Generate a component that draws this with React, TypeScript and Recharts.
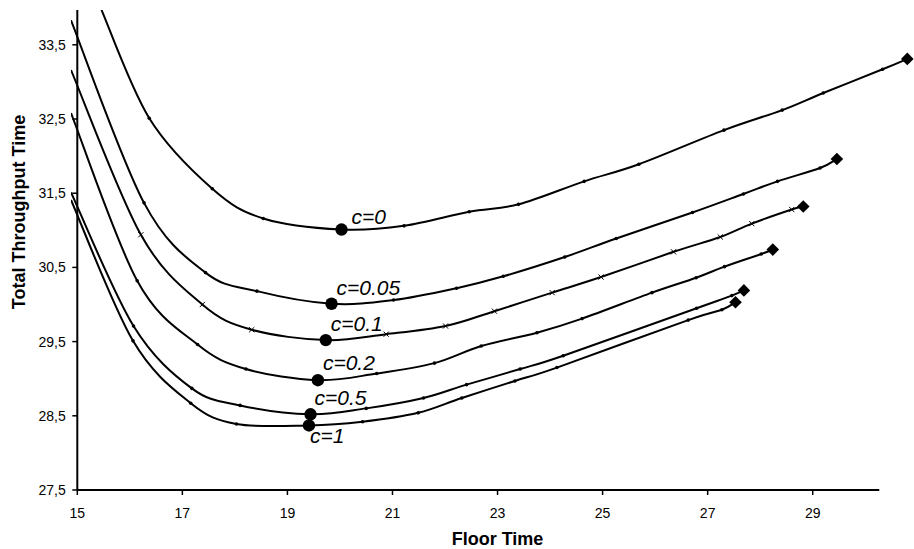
import React from 'react';
import { ComposedChart, Line, Scatter, XAxis, YAxis, ReferenceLine, Label } from 'recharts';

// ---------- data ----------
const curveNames = ['c=0', 'c=0.05', 'c=0.1', 'c=0.2', 'c=0.5', 'c=1'];

const c0Floor = [15.46, 16.37, 17.57, 18.54, 21.22, 22.46, 23.40, 24.65, 25.69, 27.31, 28.42, 29.20, 30.33, 30.80];
const c0Thru = [33.97, 32.51, 31.56, 31.16, 31.06, 31.25, 31.35, 31.66, 31.89, 32.35, 32.62, 32.85, 33.17, 33.31];

const c005Floor = [14.88, 16.27, 17.44, 18.42, 21.02, 22.22, 23.11, 24.28, 25.26, 26.71, 27.68, 28.33, 29.14, 29.46];
const c005Thru = [33.83, 31.37, 30.43, 30.18, 30.06, 30.22, 30.38, 30.64, 30.89, 31.24, 31.49, 31.66, 31.84, 31.96];

const c01Floor = [14.88, 16.21, 17.38, 18.32, 20.88, 22.01, 22.94, 24.04, 24.97, 26.35, 27.24, 27.84, 28.60, 28.82];
const c01Thru = [33.16, 30.94, 30.00, 29.66, 29.60, 29.71, 29.91, 30.16, 30.37, 30.71, 30.91, 31.09, 31.28, 31.32];

const c02Floor = [14.88, 16.14, 17.29, 18.21, 20.70, 21.80, 22.69, 23.75, 24.61, 25.94, 26.78, 27.32, 28.02, 28.24];
const c02Thru = [32.58, 30.32, 29.46, 29.13, 29.07, 29.21, 29.44, 29.62, 29.81, 30.16, 30.36, 30.51, 30.68, 30.74];

const c05Floor = [14.88, 16.07, 17.18, 18.10, 20.50, 21.59, 22.41, 23.43, 24.25, 26.79, 27.46, 27.69];
const c05Thru = [31.51, 29.71, 28.87, 28.64, 28.60, 28.74, 28.92, 29.13, 29.31, 29.95, 30.12, 30.19];

const c1Floor = [14.88, 16.06, 17.16, 18.03, 20.43, 21.49, 22.32, 23.33, 24.13, 26.63, 27.27, 27.53];
const c1Thru = [31.41, 29.51, 28.67, 28.39, 28.42, 28.54, 28.74, 28.97, 29.15, 29.79, 29.93, 30.03];

// optimum (minimum) points, one per curve
const optFloor = [20.03, 19.84, 19.73, 19.58, 19.44, 19.41];
const optThru = [31.01, 30.01, 29.52, 28.98, 28.52, 28.37];

const xTicks = [15, 17, 19, 21, 23, 25, 27, 29];
const yTicks = [27.5, 28.5, 29.5, 30.5, 31.5, 32.5, 33.5];

// ---------- layout ----------
const W = 914;
const H = 549;
const Y_AXIS_W = 71;
const X_AXIS_H = 59;
const TOP = 10;
const PLOT_W = W - Y_AXIS_W;
const X_MIN = 14.88;
const X_MAX = 30.928;
const Y_MIN = 27.5;
const Y_MAX = 33.969;
const X_AXIS_END = 30.267;
const AXIS_X = 15;
const AXIS_OFFSET = (AXIS_X - X_MIN) * (PLOT_W / (X_MAX - X_MIN));
const FONT = '"Liberation Sans", Arial, Helvetica, sans-serif';

// label offset relative to the optimum marker (dx, dy)
const labelOffsets: [number, number][] = [
  [10, -6],
  [5, -9],
  [5, -9],
  [5, -10],
  [4, -9],
  [1, 18],
];

const curveFloors = [c0Floor, c005Floor, c01Floor, c02Floor, c05Floor, c1Floor];
const curveThrus = [c0Thru, c005Thru, c01Thru, c02Thru, c05Thru, c1Thru];
const markerKinds = ['dot', 'dot', 'x', 'dot', 'dot', 'dot'];

const curves = curveFloors.map((xs, ci) => {
  const pts = xs.map((x, i) => ({ x, y: curveThrus[ci][i], opt: false }));
  pts.push({ x: optFloor[ci], y: optThru[ci], opt: true });
  pts.sort((a, b) => a.x - b.x);
  return pts;
});

const optData = optFloor.map((x, i) => ({ x, y: optThru[i], label: curveNames[i], i }));

const fmt = (v: number) => String(v).replace('.', ',');

// Catmull-Rom style smoothing (like a spreadsheet "smoothed line")
function smoothCurve(context: any) {
  let pts: [number, number][] = [];
  return {
    areaStart() {},
    areaEnd() {},
    lineStart() {
      pts = [];
    },
    point(x: number, y: number) {
      pts.push([+x, +y]);
    },
    lineEnd() {
      const n = pts.length;
      if (!n) return;
      context.moveTo(pts[0][0], pts[0][1]);
      if (n === 1) return;
      const t = 1 / 6;
      for (let i = 0; i < n - 1; i++) {
        const p0 = pts[Math.max(i - 1, 0)];
        const p1 = pts[i];
        const p2 = pts[i + 1];
        const p3 = pts[Math.min(i + 2, n - 1)];
        const c1x = p1[0] + (p2[0] - p0[0]) * t;
        const c1y = p1[1] + (p2[1] - p0[1]) * t;
        const c2x = p2[0] - (p3[0] - p1[0]) * t;
        const c2y = p2[1] - (p3[1] - p1[1]) * t;
        context.bezierCurveTo(c1x, c1y, c2x, c2y, p2[0], p2[1]);
      }
    },
  };
}

function makeDot(kind: string, n: number) {
  return (p: any) => {
    const { cx, cy, index, payload } = p;
    const key = `d-${index}`;
    if (cx == null || cy == null) return <g key={key} />;
    if (index === n - 1) {
      const s = 6.3;
      return (
        <path
          key={key}
          d={`M${cx},${cy - s} L${cx + s},${cy} L${cx},${cy + s} L${cx - s},${cy} Z`}
          fill="#000"
        />
      );
    }
    if (index === 0 || (payload && payload.opt)) return <g key={key} />;
    if (kind === 'x') {
      const s = 2.6;
      return (
        <path
          key={key}
          d={`M${cx - s},${cy - s} L${cx + s},${cy + s} M${cx - s},${cy + s} L${cx + s},${cy - s}`}
          stroke="#000"
          strokeWidth={1}
          fill="none"
        />
      );
    }
    return <circle key={key} cx={cx} cy={cy} r={1.8} fill="#000" />;
  };
}

const renderOpt = (p: any) => {
  const { cx, cy, payload } = p;
  const o = labelOffsets[payload.i];
  return (
    <g>
      <circle cx={cx} cy={cy} r={6.2} fill="#000" />
      <text
        x={cx + o[0]}
        y={cy + o[1]}
        fontSize={21}
        fontStyle="italic"
        fontFamily={FONT}
        fill="#000"
      >
        {payload.label}
      </text>
    </g>
  );
};

const XTick = (p: any) => {
  const { x, y, payload } = p;
  return (
    <g>
      <line x1={x} y1={y} x2={x} y2={y + 5} stroke="#000" strokeWidth={1.5} />
      <text x={x} y={y + 28} textAnchor="middle" fontSize={14} fontFamily={FONT} fill="#000">
        {payload.value}
      </text>
    </g>
  );
};

const YTick = (p: any) => {
  const { x, y, payload } = p;
  const ax = x + AXIS_OFFSET;
  return (
    <g>
      <line x1={ax - 5} y1={y} x2={ax} y2={y} stroke="#000" strokeWidth={1.5} />
      <text x={ax - 11.5} y={y} dy="0.36em" textAnchor="end" fontSize={14} fontFamily={FONT} fill="#000">
        {fmt(payload.value)}
      </text>
    </g>
  );
};

export default function App() {
  return (
    <div style={{ position: 'absolute', left: 0, top: 0, width: W, height: H, background: '#fff' }}>
      <ComposedChart width={W} height={H} margin={{ top: TOP, right: 0, bottom: 0, left: 0 }}>
        <XAxis
          type="number"
          dataKey="x"
          domain={[X_MIN, X_MAX]}
          allowDataOverflow
          ticks={xTicks}
          interval={0}
          height={X_AXIS_H}
          axisLine={false}
          tickLine={false}
          tickSize={0}
          tickMargin={0}
          tick={<XTick />}
        >
          <Label
            content={(props: any) => {
              const vb = props.viewBox || { x: Y_AXIS_W, width: PLOT_W, y: H - X_AXIS_H };
              return (
                <text
                  x={vb.x + vb.width / 2 + 5}
                  y={vb.y + 55}
                  textAnchor="middle"
                  fontSize={18}
                  fontWeight="bold"
                  fontFamily={FONT}
                  fill="#000"
                >
                  Floor Time
                </text>
              );
            }}
          />
        </XAxis>
        <YAxis
          type="number"
          dataKey="y"
          domain={[Y_MIN, Y_MAX]}
          allowDataOverflow
          ticks={yTicks}
          interval={0}
          width={Y_AXIS_W}
          axisLine={false}
          tickLine={false}
          tickSize={0}
          tickMargin={0}
          tick={<YTick />}
        >
          <Label
            content={(props: any) => {
              const vb = props.viewBox || { x: 0, y: TOP, width: Y_AXIS_W, height: 480 };
              const cx = vb.x + 19;
              const cy = vb.y + vb.height / 2 - 38;
              return (
                <text
                  x={cx}
                  y={cy}
                  transform={`rotate(-90, ${cx}, ${cy})`}
                  textAnchor="middle"
                  dominantBaseline="central"
                  fontSize={18}
                  fontWeight="bold"
                  fontFamily={FONT}
                  fill="#000"
                >
                  Total Throughput Time
                </text>
              );
            }}
          />
        </YAxis>
        <ReferenceLine
          ifOverflow="visible"
          segment={[{ x: AXIS_X, y: Y_MIN }, { x: AXIS_X, y: Y_MAX }]}
          stroke="#000"
          strokeWidth={2}
        />
        <ReferenceLine
          ifOverflow="visible"
          segment={[{ x: AXIS_X, y: Y_MIN }, { x: X_AXIS_END, y: Y_MIN }]}
          stroke="#000"
          strokeWidth={2}
        />
        {curves.map((pts, ci) => (
          <Line
            key={curveNames[ci]}
            name={curveNames[ci]}
            data={pts}
            dataKey="y"
            type={smoothCurve as any}
            stroke="#000"
            strokeWidth={2}
            dot={makeDot(markerKinds[ci], pts.length)}
            activeDot={false}
            isAnimationActive={false}
          />
        ))}
        <Scatter data={optData} dataKey="y" shape={renderOpt} isAnimationActive={false} />
      </ComposedChart>
    </div>
  );
}
